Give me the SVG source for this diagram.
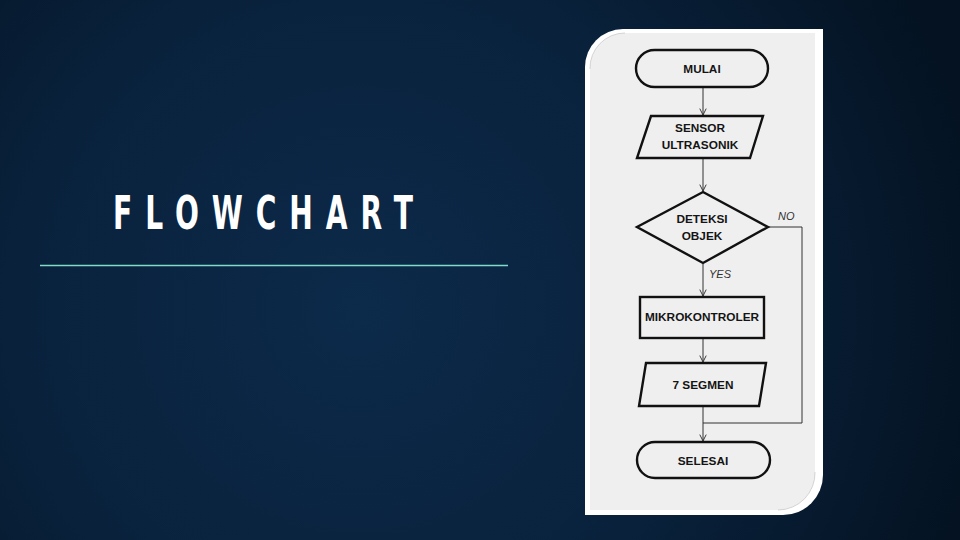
<svg xmlns="http://www.w3.org/2000/svg" width="960" height="540" viewBox="0 0 960 540">
<defs>
<radialGradient id="bg" cx="360" cy="310" r="640" gradientUnits="userSpaceOnUse">
<stop offset="0" stop-color="#0c2a4a"/>
<stop offset="0.55" stop-color="#09213b"/>
<stop offset="1" stop-color="#041221"/>
</radialGradient>
<marker id="arr" viewBox="0 0 10 10" refX="9" refY="5" markerWidth="8" markerHeight="8" markerUnits="userSpaceOnUse" orient="auto">
<path d="M1,1 L9,5 L1,9" fill="none" stroke="#333" stroke-width="1.2"/>
</marker>
<style>
.shape{fill:none;stroke:#111;stroke-width:2.4}
.lbl{font-family:"Liberation Sans",Arial,sans-serif;font-weight:bold;font-size:11.8px;fill:#141414;text-anchor:middle}
.edge{fill:none;stroke:#333;stroke-width:1}
.elbl{font-family:"Liberation Sans",Arial,sans-serif;font-style:italic;font-size:11px;fill:#333}
</style>
</defs>
<rect x="0" y="0" width="960" height="540" fill="url(#bg)"/>
<text transform="translate(113,229) scale(0.68,1)" x="0" y="0" font-family="'DejaVu Sans Condensed','DejaVu Sans',sans-serif" font-weight="bold" font-size="46" fill="#ffffff" textLength="441" lengthAdjust="spacing">FLOWCHART</text>
<line x1="40" y1="265.5" x2="508" y2="265.5" stroke="#7fdcc8" stroke-width="1.4"/>
<g id="panel">
<path d="M585,67 A38,38 0 0 1 623,29 L823,29 L823,475 A40,40 0 0 1 783,515 L585,515 Z" fill="#ffffff"/>
<path d="M590,69 A35,35 0 0 1 625,33 L815,33 L815,472 A37,37 0 0 1 778,510 L590,510 Z" fill="#efefef"/>
<path d="M590,69 A35,35 0 0 1 625,33" fill="none" stroke="#c4c4c4" stroke-width="0.7"/>
<path d="M815,472 A37,37 0 0 1 778,510" fill="none" stroke="#c4c4c4" stroke-width="0.7"/>
</g>
<g id="connectors">
<line class="edge" x1="703" y1="88" x2="703" y2="115" marker-end="url(#arr)"/>
<line class="edge" x1="703" y1="159" x2="703" y2="191" marker-end="url(#arr)"/>
<line class="edge" x1="703" y1="264" x2="703" y2="296" marker-end="url(#arr)"/>
<line class="edge" x1="703" y1="339" x2="703" y2="362" marker-end="url(#arr)"/>
<line class="edge" x1="703" y1="407" x2="703" y2="441" marker-end="url(#arr)"/>
<polyline class="edge" points="769,227 802,227 802,423 703,423"/>
<text class="elbl" x="778" y="220">NO</text>
<text class="elbl" x="709" y="278">YES</text>
</g>
<g id="mulai">
<rect class="shape" x="636" y="50" width="132" height="37" rx="18.5"/>
<text class="lbl" x="702" y="73">MULAI</text>
</g>
<g id="sensor">
<polygon class="shape" points="651,116 763,116 750,158 637,158"/>
<text class="lbl" x="700" y="132">SENSOR</text>
<text class="lbl" x="700" y="149">ULTRASONIK</text>
</g>
<g id="deteksi">
<polygon class="shape" points="703,192 768,227 703,263 637,227"/>
<text class="lbl" x="702" y="223">DETEKSI</text>
<text class="lbl" x="702" y="240">OBJEK</text>
</g>
<g id="mikro">
<rect class="shape" x="640" y="297" width="124" height="41"/>
<text class="lbl" x="702" y="321">MIKROKONTROLER</text>
</g>
<g id="segmen">
<polygon class="shape" points="646,363 766,363 759,406 639,406"/>
<text class="lbl" x="703" y="389">7 SEGMEN</text>
</g>
<g id="selesai">
<rect class="shape" x="637" y="442" width="133" height="36" rx="18"/>
<text class="lbl" x="703" y="465">SELESAI</text>
</g>
</svg>
